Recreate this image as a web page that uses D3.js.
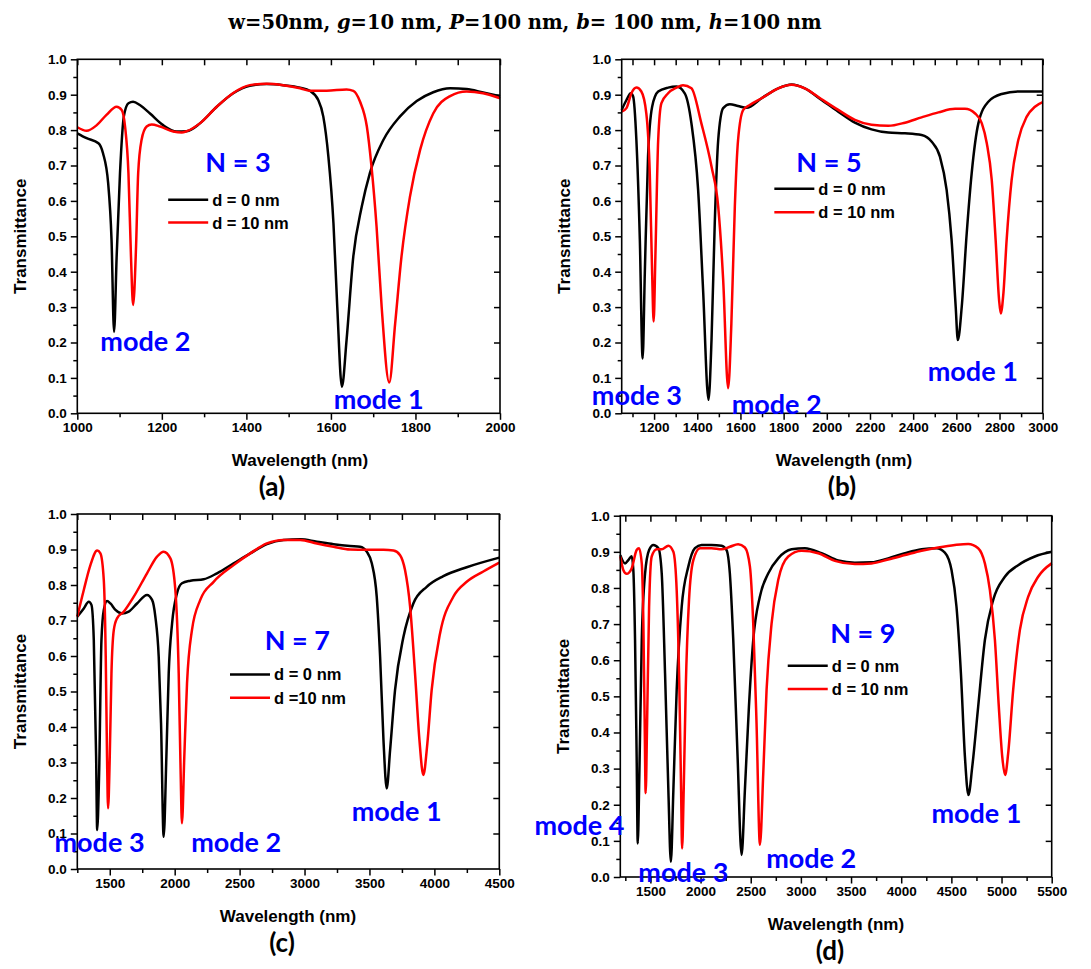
<html>
<meta charset="UTF-8">
<head>
    <title>Transmittance vs Wavelength</title>
    <script src="https://d3js.org/d3.v7.min.js"></script>
    <style>
        body { margin: 0; background: #fff; }
        .axis path, .axis line { stroke: #000; stroke-width: 1.5; }
        .axis text { font-family: "Liberation Sans", Arial, sans-serif; font-weight: bold; font-size: 13.5px; fill: #000; }
        .frame { fill: none; stroke: #000; stroke-width: 1.6; }
        .curve { fill: none; stroke-width: 2.5; stroke-linejoin: round; }
        .axisTitle { font-family: "Liberation Sans", Arial, sans-serif; font-weight: bold; font-size: 17px; }
        .legendText { font-family: "Liberation Sans", Arial, sans-serif; font-weight: bold; font-size: 16.5px; }
        .blue { font-family: Lato, "Open Sans", sans-serif; font-weight: bold; fill: #0000ff; font-size: 27px; }
        .panelLabel { font-family: Lato, "Open Sans", sans-serif; font-weight: bold; font-size: 26px; }
    </style>
</head>
<body>
<svg id="fig" width="1091" height="969"></svg>
<script>
    // ---- data: [wavelength (nm), transmittance]
    const n3_d0 = [[1000,0.791],[1022,0.777],[1050,0.763],[1061,0.734],[1073,0.65],[1081,0.49],[1087,0.23],
        [1093,0.44],[1101,0.678],[1110,0.838],[1121,0.876],[1132,0.880],[1148,0.871],[1172,0.847],[1203,0.814],
        [1235,0.796],[1259,0.797],[1290,0.819],[1330,0.866],[1369,0.904],[1408,0.925],[1448,0.930],[1487,0.927],
        [1527,0.920],[1550,0.911],[1570,0.885],[1582,0.838],[1594,0.725],[1606,0.537],[1615,0.301],[1626,0.075],
        [1637,0.207],[1653,0.443],[1673,0.584],[1692,0.678],[1724,0.772],[1763,0.838],[1803,0.882],[1842,0.907],
        [1882,0.918],[1921,0.916],[1960,0.906],[2000,0.896]];
    const n3_d10 = [[1000,0.808],[1022,0.798],[1046,0.814],[1069,0.843],[1093,0.866],[1105,0.857],[1113,0.810],
        [1121,0.678],[1127,0.443],[1132,0.306],[1139,0.471],[1144,0.678],[1152,0.772],[1164,0.810],[1176,0.816],
        [1196,0.810],[1227,0.796],[1247,0.793],[1259,0.797],[1290,0.819],[1330,0.866],[1369,0.905],[1408,0.927],
        [1448,0.931],[1487,0.927],[1527,0.918],[1550,0.911],[1590,0.911],[1637,0.915],[1653,0.911],[1669,0.880],
        [1685,0.810],[1696,0.697],[1708,0.527],[1720,0.301],[1738,0.087],[1752,0.254],[1767,0.443],[1787,0.612],
        [1811,0.744],[1842,0.847],[1882,0.896],[1921,0.909],[1960,0.904],[2000,0.890]];

    const n5_d0 = [[1050,0.857],[1072,0.885],[1092,0.904],[1103,0.895],[1118,0.772],[1134,0.490],[1147,0.155],
        [1157,0.395],[1172,0.725],[1191,0.866],[1219,0.909],[1265,0.920],[1304,0.923],[1342,0.904],[1373,0.819],
        [1404,0.631],[1427,0.348],[1452,0.038],[1466,0.207],[1481,0.537],[1497,0.772],[1520,0.862],[1551,0.873],
        [1589,0.868],[1628,0.863],[1698,0.890],[1775,0.918],[1837,0.929],[1898,0.918],[1976,0.885],[2053,0.852],
        [2130,0.821],[2207,0.802],[2285,0.793],[2362,0.791],[2439,0.786],[2486,0.767],[2524,0.725],[2555,0.631],
        [2578,0.490],[2597,0.301],[2607,0.207],[2625,0.301],[2648,0.508],[2671,0.678],[2702,0.819],[2748,0.880],
        [2810,0.902],[2887,0.909],[3000,0.909]];
    const n5_d10 = [[1050,0.852],[1072,0.862],[1095,0.904],[1118,0.920],[1141,0.909],[1164,0.847],[1180,0.678],
        [1191,0.395],[1198,0.259],[1206,0.443],[1219,0.772],[1234,0.876],[1265,0.904],[1304,0.920],[1334,0.927],
        [1373,0.918],[1419,0.819],[1466,0.697],[1497,0.584],[1520,0.377],[1543,0.071],[1558,0.254],[1574,0.584],
        [1589,0.772],[1613,0.857],[1643,0.871],[1698,0.890],[1775,0.918],[1837,0.928],[1898,0.918],[1976,0.887],
        [2053,0.857],[2130,0.829],[2207,0.815],[2285,0.812],[2362,0.821],[2439,0.836],[2517,0.850],[2594,0.860],
        [2640,0.860],[2687,0.847],[2718,0.819],[2741,0.763],[2764,0.659],[2782,0.490],[2798,0.320],[2806,0.282],
        [2818,0.339],[2833,0.490],[2856,0.659],[2887,0.772],[2926,0.838],[2964,0.866],[3000,0.879]];

    const n7_d0 = [[1250,0.711],[1300,0.734],[1338,0.753],[1359,0.744],[1377,0.645],[1395,0.316],[1403,0.110],
        [1418,0.269],[1436,0.645],[1454,0.730],[1479,0.755],[1505,0.748],[1544,0.730],[1595,0.720],[1646,0.725],
        [1710,0.748],[1787,0.772],[1826,0.758],[1851,0.711],[1877,0.598],[1895,0.410],[1915,0.091],[1936,0.316],
        [1954,0.551],[1980,0.692],[2018,0.777],[2056,0.805],[2121,0.812],[2223,0.816],[2326,0.833],[2454,0.861],
        [2582,0.889],[2710,0.915],[2838,0.927],[2967,0.929],[3095,0.922],[3223,0.915],[3351,0.910],[3428,0.908],
        [3479,0.894],[3518,0.861],[3556,0.767],[3582,0.598],[3608,0.363],[3633,0.227],[3659,0.335],[3697,0.504],
        [3762,0.654],[3838,0.748],[3941,0.795],[4069,0.825],[4249,0.850],[4500,0.877]];
    const n7_d10 = [[1250,0.711],[1300,0.786],[1351,0.856],[1403,0.897],[1428,0.889],[1454,0.814],[1469,0.598],
        [1479,0.316],[1487,0.171],[1500,0.316],[1513,0.551],[1531,0.673],[1556,0.706],[1608,0.725],[1685,0.767],
        [1787,0.833],[1864,0.880],[1915,0.894],[1967,0.875],[2005,0.786],[2031,0.551],[2046,0.269],[2056,0.129],
        [2074,0.316],[2095,0.523],[2133,0.673],[2197,0.758],[2300,0.809],[2454,0.856],[2582,0.889],[2710,0.917],
        [2838,0.927],[2967,0.927],[3095,0.917],[3223,0.908],[3351,0.900],[3479,0.899],[3608,0.899],[3685,0.897],
        [3736,0.884],[3774,0.842],[3813,0.739],[3851,0.551],[3885,0.363],[3915,0.265],[3946,0.354],[3979,0.504],
        [4044,0.664],[4146,0.767],[4249,0.809],[4377,0.838],[4500,0.863]];

    const n9_d0 = [[1200,0.891],[1247,0.868],[1280,0.877],[1313,0.888],[1330,0.849],[1347,0.656],[1363,0.333],
        [1374,0.093],[1390,0.287],[1414,0.656],[1447,0.840],[1487,0.905],[1530,0.919],[1580,0.910],[1613,0.840],
        [1646,0.564],[1679,0.241],[1704,0.042],[1729,0.241],[1762,0.518],[1812,0.748],[1878,0.859],[1944,0.910],
        [2010,0.919],[2110,0.919],[2209,0.917],[2259,0.905],[2292,0.840],[2326,0.656],[2369,0.333],[2409,0.061],
        [2442,0.241],[2482,0.471],[2525,0.656],[2591,0.776],[2674,0.840],[2774,0.882],[2907,0.907],[3040,0.910],
        [3206,0.896],[3372,0.876],[3538,0.870],[3704,0.871],[3870,0.882],[4037,0.896],[4203,0.907],[4352,0.910],
        [4435,0.898],[4502,0.849],[4551,0.748],[4595,0.564],[4635,0.333],[4670,0.227],[4708,0.305],[4767,0.471],
        [4834,0.656],[4917,0.767],[5033,0.831],[5166,0.863],[5332,0.887],[5500,0.900]];
    const n9_d10 = [[1200,0.887],[1231,0.849],[1263,0.839],[1313,0.854],[1363,0.905],[1386,0.910],[1414,0.868],
        [1430,0.702],[1443,0.425],[1453,0.232],[1467,0.425],[1487,0.748],[1513,0.887],[1563,0.907],[1613,0.907],
        [1679,0.917],[1729,0.900],[1762,0.794],[1789,0.518],[1806,0.241],[1816,0.079],[1832,0.241],[1852,0.518],
        [1885,0.767],[1928,0.877],[1994,0.910],[2110,0.910],[2209,0.907],[2292,0.914],[2375,0.921],[2442,0.912],
        [2492,0.859],[2525,0.702],[2558,0.425],[2592,0.089],[2625,0.287],[2658,0.518],[2708,0.702],[2774,0.822],
        [2874,0.887],[3007,0.903],[3173,0.896],[3339,0.875],[3538,0.866],[3704,0.868],[3870,0.879],[4037,0.891],
        [4203,0.903],[4369,0.912],[4535,0.919],[4668,0.922],[4767,0.910],[4834,0.868],[4884,0.794],[4934,0.656],
        [4973,0.471],[5007,0.333],[5036,0.282],[5066,0.342],[5116,0.518],[5183,0.684],[5266,0.776],[5365,0.831],
        [5500,0.868]];

    // tick labels
    const yTicks = [0, 0.1, 0.2, 0.3, 0.4, 0.5, 0.6, 0.7, 0.8, 0.9, 1.0];
    const xTicksA = [1000, 1200, 1400, 1600, 1800, 2000];
    const xTicksB = [1200, 1400, 1600, 1800, 2000, 2200, 2400, 2600, 2800, 3000];
    const xTicksC = [1500, 2000, 2500, 3000, 3500, 4000, 4500];
    const xTicksD = [1500, 2000, 2500, 3000, 3500, 4000, 4500, 5000, 5500];

    const seriesNames = ["d = 0 nm", "d = 10 nm"];
    const seriesColors = ["#000000", "#ff0000"];

    // ---- layout of the four panels
    const panels = [
        {label: "(a)", N: "N = 3", box: {x: 77.3, y: 59.3, w: 422.7, h: 354}, xDomain: [1000, 2000],
         ticks: xTicksA, minorStep: 100, curves: [n3_d0, n3_d10], names: seriesNames,
         nPos: [1380, 0.71], legPos: [1215, 0.603], legGap: 22.7, labelX: 272, titleX: 300,
         modes: [["mode 2", 1161, 0.207], ["mode 1", 1713, 0.043]]},
        {label: "(b)", N: "N = 5", box: {x: 621.7, y: 59.3, w: 421, h: 354}, xDomain: [1050, 3000],
         ticks: xTicksB, minorStep: 100, curves: [n5_d0, n5_d10], names: seriesNames,
         nPos: [2010, 0.711], legPos: [1757, 0.634], legGap: 23.3, labelX: 842, titleX: 844,
         modes: [["mode 3", 1120, 0.052], ["mode 2", 1768, 0.029], ["mode 1", 2676, 0.122]]},
        {label: "(c)", N: "N = 7", box: {x: 77.3, y: 514, w: 422, h: 355}, xDomain: [1250, 4500],
         ticks: xTicksC, minorStep: 250, curves: [n7_d0, n7_d10], names: ["d = 0 nm", "d =10 nm"],
         nPos: [2944, 0.647], legPos: [2426, 0.548], legGap: 23.4, labelX: 282, titleX: 288,
         modes: [["mode 3", 1421, 0.077], ["mode 2", 2474, 0.077], ["mode 1", 3710, 0.166]]},
        {label: "(d)", N: "N = 9", box: {x: 620.3, y: 515.7, w: 431.4, h: 361.3}, xDomain: [1200, 5500],
         ticks: xTicksD, minorStep: 250, curves: [n9_d0, n9_d10], names: seriesNames,
         nPos: [3617, 0.676], legPos: [2869, 0.585], legGap: 23.3, labelX: 830, titleX: 836,
         modes: [["mode 4", 793, 0.144], ["mode 3", 1829, 0.015], ["mode 2", 3103, 0.055], ["mode 1", 4750, 0.178]]}
    ];

    const svg = d3.select("svg#fig");

    // figure title
    const title = svg.append("text")
        .attr("x", 525).attr("y", 29)
        .attr("text-anchor", "middle")
        .style("font-family", "'DejaVu Serif', serif")
        .style("font-weight", "bold")
        .style("font-size", "19.5px");
    [["w=50nm, ", false], ["g", true], ["=10 nm, ", false], ["P", true], ["=100 nm, ", false],
     ["b", true], ["= 100 nm, ", false], ["h", true], ["=100 nm", false]].forEach(([t, it]) => {
        title.append("tspan").attr("font-style", it ? "italic" : "normal").text(t);
    });

    panels.forEach(p => {
        const b = p.box;
        const g = svg.append("g").attr("transform", `translate(${b.x},${b.y})`);

        const x = d3.scaleLinear().domain(p.xDomain).range([0, b.w]);
        const y = d3.scaleLinear().domain([0, 1]).range([b.h, 0]);

        const minor = d3.range(Math.ceil(p.xDomain[0] / p.minorStep) * p.minorStep, p.xDomain[1] + 1, p.minorStep)
            .filter(v => !p.ticks.includes(v));
        const yMinor = d3.range(0.05, 1, 0.1);

        // bottom axis: major + minor (outward)
        g.append("g").attr("class", "axis")
            .attr("transform", `translate(0,${b.h})`)
            .call(d3.axisBottom(x).tickValues(p.ticks).tickSize(6.5).tickPadding(3).tickFormat(d3.format("d")))
            .call(a => a.select(".domain").remove());
        g.append("g").attr("class", "axis")
            .attr("transform", `translate(0,${b.h})`)
            .call(d3.axisBottom(x).tickValues(minor).tickSize(4).tickFormat(""))
            .call(a => a.select(".domain").remove());
        // left axis
        g.append("g").attr("class", "axis")
            .call(d3.axisLeft(y).tickValues(yTicks).tickSize(6.5).tickPadding(4).tickFormat(d3.format(".1f")))
            .call(a => a.select(".domain").remove());
        g.append("g").attr("class", "axis")
            .call(d3.axisLeft(y).tickValues(yMinor).tickSize(4).tickFormat(""))
            .call(a => a.select(".domain").remove());
        // top and right: inward ticks
        g.append("g").attr("class", "axis")
            .call(d3.axisBottom(x).tickValues(p.ticks.concat(minor)).tickSize(6).tickFormat(""))
            .call(a => a.select(".domain").remove());
        g.append("g").attr("class", "axis")
            .attr("transform", `translate(${b.w},0)`)
            .call(d3.axisLeft(y).tickValues(yTicks.slice(1, -1)).tickSize(6).tickFormat(""))
            .call(a => a.select(".domain").remove());

        // curves (black first, red on top)
        const line = d3.line()
            .x(d => x(d[0]))
            .y(d => y(d[1]))
            .curve(d3.curveMonotoneX);
        p.curves.forEach((c, i) => {
            g.append("path").attr("class", "curve")
                .attr("d", line(c))
                .attr("stroke", seriesColors[i]);
        });

        // frame
        g.append("rect").attr("class", "frame")
            .attr("width", b.w).attr("height", b.h);

        // axis titles
        g.append("text").attr("class", "axisTitle")
            .attr("transform", `translate(-57,${b.h / 2}) rotate(-90)`)
            .attr("text-anchor", "middle")
            .attr("dominant-baseline", "central")
            .text("Transmittance");
        svg.append("text").attr("class", "axisTitle")
            .attr("x", p.titleX).attr("y", b.y + b.h + 47)
            .attr("text-anchor", "middle")
            .attr("dominant-baseline", "central")
            .text("Wavelength (nm)");
        svg.append("text").attr("class", "panelLabel")
            .attr("x", p.labelX).attr("y", b.y + b.h + 73)
            .attr("text-anchor", "middle")
            .attr("dominant-baseline", "central")
            .text(p.label);

        // N label
        g.append("text").attr("class", "blue")
            .attr("x", x(p.nPos[0])).attr("y", y(p.nPos[1]))
            .attr("text-anchor", "middle")
            .attr("dominant-baseline", "central")
            .text(p.N);

        // legend
        p.names.forEach((name, i) => {
            const lx = x(p.legPos[0]);
            const ly = y(p.legPos[1]) + i * p.legGap;
            g.append("line")
                .attr("x1", lx).attr("x2", lx + 40)
                .attr("y1", ly).attr("y2", ly)
                .attr("stroke", seriesColors[i]).attr("stroke-width", 2.5);
            g.append("text").attr("class", "legendText")
                .attr("x", lx + 44).attr("y", ly)
                .attr("dominant-baseline", "central")
                .text(name);
        });

        // mode labels
        p.modes.forEach(m => {
            g.append("text").attr("class", "blue")
                .attr("x", x(m[1])).attr("y", y(m[2]))
                .attr("text-anchor", "middle")
                .attr("dominant-baseline", "central")
                .text(m[0]);
        });
    });
</script>
</body>
</html>
